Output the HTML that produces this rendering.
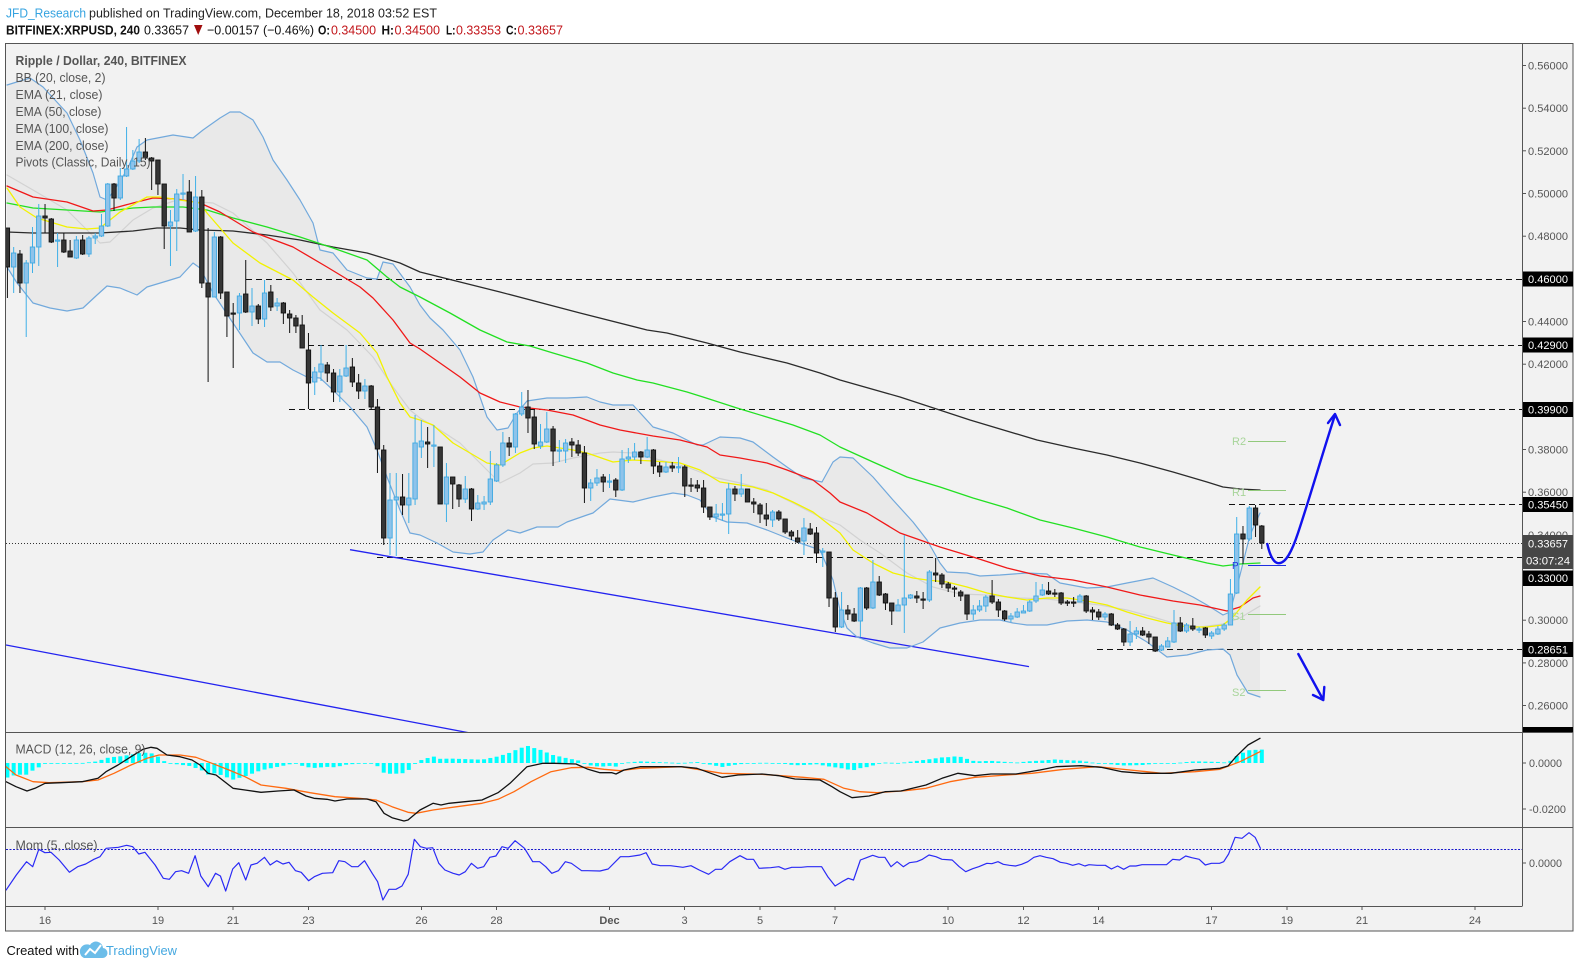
<!DOCTYPE html>
<html><head><meta charset="utf-8">
<style>
html,body{margin:0;padding:0;background:#fff;}
svg{display:block;}
text{font-family:"Liberation Sans",Arial,sans-serif;}
</style></head>
<body>
<svg id="svg" xmlns="http://www.w3.org/2000/svg" width="1580" height="968" viewBox="0 0 1580 968">
<defs>
<clipPath id="cMain"><rect x="6" y="43" width="1516" height="689"/></clipPath>
<clipPath id="cMacd"><rect x="6" y="732" width="1516" height="95"/></clipPath>
<clipPath id="cMom"><rect x="6" y="827" width="1516" height="79"/></clipPath>
</defs>
<rect x="0" y="0" width="1580" height="968" fill="#ffffff"/>
<!-- header -->
<text x="6" y="17.5" font-size="13" fill="#35a3e0" textLength="80" lengthAdjust="spacingAndGlyphs">JFD_Research</text>
<text x="89" y="17.5" font-size="13" fill="#222" textLength="348" lengthAdjust="spacingAndGlyphs">published on TradingView.com, December 18, 2018 03:52 EST</text>
<text x="6" y="34.5" font-size="13" font-weight="bold" fill="#111" textLength="134" lengthAdjust="spacingAndGlyphs">BITFINEX:XRPUSD, 240</text>
<text x="144" y="34.5" font-size="13" fill="#111" textLength="45" lengthAdjust="spacingAndGlyphs">0.33657</text>
<polygon points="194,25 202.5,25 198.2,35" fill="#a00d0d"/>
<text x="207" y="34.5" font-size="13" fill="#111" textLength="107" lengthAdjust="spacingAndGlyphs">−0.00157 (−0.46%)</text>
<text x="318" y="34.5" font-size="13" font-weight="bold" fill="#111" textLength="12" lengthAdjust="spacingAndGlyphs">O:</text>
<text x="331" y="34.5" font-size="13" fill="#c2161b" textLength="45" lengthAdjust="spacingAndGlyphs">0.34500</text>
<text x="381.5" y="34.5" font-size="13" font-weight="bold" fill="#111" textLength="12.5" lengthAdjust="spacingAndGlyphs">H:</text>
<text x="394.5" y="34.5" font-size="13" fill="#c2161b" textLength="45.5" lengthAdjust="spacingAndGlyphs">0.34500</text>
<text x="446" y="34.5" font-size="13" font-weight="bold" fill="#111" textLength="9.5" lengthAdjust="spacingAndGlyphs">L:</text>
<text x="456" y="34.5" font-size="13" fill="#c2161b" textLength="45" lengthAdjust="spacingAndGlyphs">0.33353</text>
<text x="506" y="34.5" font-size="13" font-weight="bold" fill="#111" textLength="11" lengthAdjust="spacingAndGlyphs">C:</text>
<text x="517.5" y="34.5" font-size="13" fill="#c2161b" textLength="45.5" lengthAdjust="spacingAndGlyphs">0.33657</text>

<!-- frame background -->
<rect x="5.5" y="43.5" width="1567.5" height="887.5" fill="#f2f2f2" stroke="none"/>

<g id="gMain" clip-path="url(#cMain)"></g>
<g id="gMacd" clip-path="url(#cMacd)"></g>
<g id="gMom" clip-path="url(#cMom)"></g>

<!-- frame lines -->
<g stroke="#555" stroke-width="1" fill="none">
<rect x="5.5" y="43.5" width="1567.5" height="887.5"/>
<line x1="1522.5" y1="43" x2="1522.5" y2="906"/>
<line x1="5" y1="732.5" x2="1573" y2="732.5"/>
<line x1="5" y1="827.5" x2="1573" y2="827.5"/>
<line x1="5" y1="906.5" x2="1522.5" y2="906.5"/>
</g>

<!-- legend -->
<g font-size="12.5" fill="#555">
<text x="15.5" y="65" font-weight="bold" textLength="171" lengthAdjust="spacingAndGlyphs">Ripple / Dollar, 240, BITFINEX</text>
<text x="15.5" y="82" textLength="90" lengthAdjust="spacingAndGlyphs">BB (20, close, 2)</text>
<text x="15.5" y="99" textLength="87" lengthAdjust="spacingAndGlyphs">EMA (21, close)</text>
<text x="15.5" y="116" textLength="86" lengthAdjust="spacingAndGlyphs">EMA (50, close)</text>
<text x="15.5" y="133" textLength="93" lengthAdjust="spacingAndGlyphs">EMA (100, close)</text>
<text x="15.5" y="150" textLength="93" lengthAdjust="spacingAndGlyphs">EMA (200, close)</text>
<text x="15.5" y="166.5" textLength="135" lengthAdjust="spacingAndGlyphs">Pivots (Classic, Daily, 15)</text>
<text x="15.5" y="753.5" textLength="130" lengthAdjust="spacingAndGlyphs">MACD (12, 26, close, 9)</text>
<text x="15.5" y="849.5" textLength="82" lengthAdjust="spacingAndGlyphs">Mom (5, close)</text>
</g>

<!-- price axis ticks -->
<g stroke="#555" stroke-width="1">
<line x1="1522" y1="65.5" x2="1526" y2="65.5"/><line x1="1522" y1="108.2" x2="1526" y2="108.2"/>
<line x1="1522" y1="150.8" x2="1526" y2="150.8"/><line x1="1522" y1="193.5" x2="1526" y2="193.5"/>
<line x1="1522" y1="236.2" x2="1526" y2="236.2"/><line x1="1522" y1="321.5" x2="1526" y2="321.5"/>
<line x1="1522" y1="364.2" x2="1526" y2="364.2"/><line x1="1522" y1="449.5" x2="1526" y2="449.5"/>
<line x1="1522" y1="492.2" x2="1526" y2="492.2"/><line x1="1522" y1="620.2" x2="1526" y2="620.2"/>
<line x1="1522" y1="662.9" x2="1526" y2="662.9"/><line x1="1522" y1="705.5" x2="1526" y2="705.5"/>
<line x1="1522" y1="763" x2="1526" y2="763"/><line x1="1522" y1="809" x2="1526" y2="809"/>
<line x1="1522" y1="863" x2="1526" y2="863"/>
</g>
<g font-size="11" fill="#555">
<text x="1528" y="69.5" textLength="40" lengthAdjust="spacingAndGlyphs">0.56000</text>
<text x="1528" y="112.2" textLength="40" lengthAdjust="spacingAndGlyphs">0.54000</text>
<text x="1528" y="154.8" textLength="40" lengthAdjust="spacingAndGlyphs">0.52000</text>
<text x="1528" y="197.5" textLength="40" lengthAdjust="spacingAndGlyphs">0.50000</text>
<text x="1528" y="240.2" textLength="40" lengthAdjust="spacingAndGlyphs">0.48000</text>
<text x="1528" y="325.5" textLength="40" lengthAdjust="spacingAndGlyphs">0.44000</text>
<text x="1528" y="368.2" textLength="40" lengthAdjust="spacingAndGlyphs">0.42000</text>
<text x="1528" y="453.5" textLength="40" lengthAdjust="spacingAndGlyphs">0.38000</text>
<text x="1528" y="496.2" textLength="40" lengthAdjust="spacingAndGlyphs">0.36000</text>
<text x="1528" y="538.9" textLength="40" lengthAdjust="spacingAndGlyphs">0.34000</text>
<text x="1528" y="624.2" textLength="40" lengthAdjust="spacingAndGlyphs">0.30000</text>
<text x="1528" y="666.9" textLength="40" lengthAdjust="spacingAndGlyphs">0.28000</text>
<text x="1528" y="709.5" textLength="40" lengthAdjust="spacingAndGlyphs">0.26000</text>
<text x="1529" y="767" textLength="33" lengthAdjust="spacingAndGlyphs">0.0000</text>
<text x="1529" y="813" textLength="37" lengthAdjust="spacingAndGlyphs">-0.0200</text>
<text x="1529" y="867" textLength="33" lengthAdjust="spacingAndGlyphs">0.0000</text>
</g>
<!-- price label boxes -->
<g fill="#000">
<rect x="1523" y="271.5" width="50" height="15"/>
<rect x="1523" y="337.5" width="50" height="15"/>
<rect x="1523" y="402" width="50" height="15"/>
<rect x="1523" y="497" width="50" height="15"/>
<rect x="1523" y="535" width="50" height="17" fill="#474747"/>
<rect x="1523" y="552" width="50" height="17" fill="#474747"/>
<rect x="1523" y="570.5" width="50" height="15.5"/>
<rect x="1523" y="642" width="50" height="15"/>
<rect x="1523" y="727" width="50" height="5"/>
</g>
<g font-size="11" fill="#fff">
<text x="1528" y="283" textLength="40" lengthAdjust="spacingAndGlyphs">0.46000</text>
<text x="1528" y="349" textLength="40" lengthAdjust="spacingAndGlyphs">0.42900</text>
<text x="1528" y="413.5" textLength="40" lengthAdjust="spacingAndGlyphs">0.39900</text>
<text x="1528" y="508.5" textLength="40" lengthAdjust="spacingAndGlyphs">0.35450</text>
<text x="1528" y="547.5" textLength="40" lengthAdjust="spacingAndGlyphs">0.33657</text>
<text x="1526" y="564.5" textLength="44" lengthAdjust="spacingAndGlyphs">03:07:24</text>
<text x="1528" y="582" textLength="40" lengthAdjust="spacingAndGlyphs">0.33000</text>
<text x="1528" y="653.5" textLength="40" lengthAdjust="spacingAndGlyphs">0.28651</text>
</g>

<!-- x axis -->
<g stroke="#555" stroke-width="1">
<line x1="45" y1="906" x2="45" y2="910"/><line x1="158" y1="906" x2="158" y2="910"/>
<line x1="233" y1="906" x2="233" y2="910"/><line x1="308.5" y1="906" x2="308.5" y2="910"/>
<line x1="421.5" y1="906" x2="421.5" y2="910"/><line x1="496.5" y1="906" x2="496.5" y2="910"/>
<line x1="609.5" y1="906" x2="609.5" y2="910"/><line x1="684.5" y1="906" x2="684.5" y2="910"/>
<line x1="760" y1="906" x2="760" y2="910"/><line x1="835" y1="906" x2="835" y2="910"/>
<line x1="948" y1="906" x2="948" y2="910"/><line x1="1023.5" y1="906" x2="1023.5" y2="910"/>
<line x1="1098.5" y1="906" x2="1098.5" y2="910"/><line x1="1211.5" y1="906" x2="1211.5" y2="910"/>
<line x1="1287" y1="906" x2="1287" y2="910"/><line x1="1362" y1="906" x2="1362" y2="910"/>
<line x1="1475" y1="906" x2="1475" y2="910"/>
</g>
<g font-size="11" fill="#555" text-anchor="middle">
<text x="45" y="924">16</text><text x="158" y="924">19</text><text x="233" y="924">21</text>
<text x="308.5" y="924">23</text><text x="421.5" y="924">26</text><text x="496.5" y="924">28</text>
<text x="609.5" y="924" font-weight="bold">Dec</text><text x="684.5" y="924">3</text><text x="760" y="924">5</text>
<text x="835" y="924">7</text><text x="948" y="924">10</text><text x="1023.5" y="924">12</text>
<text x="1098.5" y="924">14</text><text x="1211.5" y="924">17</text><text x="1287" y="924">19</text>
<text x="1362" y="924">21</text><text x="1475" y="924">24</text>
</g>

<!-- footer -->
<text x="6.5" y="955" font-size="13" fill="#111" textLength="72.5" lengthAdjust="spacingAndGlyphs">Created with</text>
<path d="M84,958 h18 a5,5 0 0 0 1,-10 a7,7 0 0 0 -13,-3 a5.5,5.5 0 0 0 -6,13z" fill="#6cbde9"/>
<polyline points="85,955 90,949 95,953 101,945" fill="none" stroke="#fff" stroke-width="2"/>
<text x="106" y="955" font-size="13" fill="#45a8e0" textLength="71" lengthAdjust="spacingAndGlyphs">TradingView</text>

<!-- pivot labels -->
<g font-size="11" fill="#a8d59a">
<text x="1232" y="445">R2</text>
<text x="1232" y="496">R1</text>
<text x="1232" y="620">S1</text>
<text x="1232" y="696">S2</text>
<text x="1232" y="569" fill="#2233dd" font-size="10">P</text>
</g>
</svg>

<script>
(function(){
var NS="http://www.w3.org/2000/svg";
var gMain=document.getElementById("gMain"),gMacd=document.getElementById("gMacd"),gMom=document.getElementById("gMom");
function mk(t,a,p){var e=document.createElementNS(NS,t);for(var k in a)e.setAttribute(k,a[k]);p.appendChild(e);return e;}
function X(i){return 7.4+i*6.272;}
function pts(a){var s=[];for(var i=0;i<a.length;i+=2)s.push(a[i]+","+a[i+1]);return s.join(" ");}
function pl(a,c,w,p,extra){var o={points:pts(a),fill:"none",stroke:c,"stroke-width":w,"stroke-linejoin":"round","stroke-linecap":"round"};if(extra)for(var k in extra)o[k]=extra[k];return mk("polyline",o,p);}
function interp(a,x){if(x<=a[0])return a[1];for(var i=0;i<a.length-2;i+=2){if(x>=a[i]&&x<=a[i+2]){var t=(x-a[i])/(a[i+2]-a[i]);return a[i+1]+t*(a[i+3]-a[i+1]);}}return a[a.length-1];}

var yellow=[7,188,20,207,37,218,67,227,87,229,100,228,120,212,147,197,160,197,180,200,200,203,207,213,233,243,260,263,293,280,313,297,333,313,360,333,377,353,387,377,400,403,410,417,420,420,433,425,453,443,470,453,487,463,500,465,520,453,533,448,547,446,560,448,573,450,587,453,613,462,633,460,653,461,680,463,700,470,720,482,740,485,753,487,773,493,793,502,813,512,827,523,840,533,853,550,873,563,893,573,913,578,927,580,947,582,967,587,987,593,1007,597,1027,600,1047,598,1067,598,1087,601,1107,605,1127,612,1147,618,1167,623,1187,627,1207,627,1223,625,1233,617,1247,600,1260,587];
var red=[7,186,33,197,67,202,93,211,107,210,133,203,153,198,177,199,200,203,220,212,253,232,293,247,327,267,360,287,373,298,393,320,410,343,420,349,440,363,460,377,480,393,500,402,520,407,547,410,573,415,600,425,620,430,653,436,680,440,707,447,720,455,740,458,767,463,787,470,813,480,830,493,840,502,867,513,900,533,940,547,973,557,1007,568,1040,576,1073,580,1107,587,1140,595,1173,601,1200,605,1227,611,1240,607,1253,598,1260,596];
var green=[7,203,33,208,67,210,100,212,133,208,153,207,183,207,207,210,233,218,267,227,300,237,333,248,367,260,387,277,400,287,420,297,450,313,480,330,507,342,530,346,553,353,587,363,613,373,637,380,653,383,687,392,703,397,737,408,770,418,793,425,820,435,840,447,873,462,907,477,940,487,973,498,1007,508,1040,520,1073,528,1107,537,1140,547,1173,555,1207,563,1223,566,1240,564,1260,563];
var black=[7,232,33,233,67,233,100,233,133,231,157,228,180,228,200,230,233,231,267,235,300,240,333,247,367,253,400,263,420,272,500,292,580,313,647,330,667,333,707,343,740,352,787,363,820,373,840,380,900,397,970,420,1037,440,1073,448,1107,455,1140,463,1173,472,1207,482,1223,487,1240,489,1260,490];
var gray=[7,175,33,190,67,210,100,243,110,242,133,220,153,208,177,200,200,202,213,203,233,213,267,243,293,273,320,310,347,330,373,357,393,387,410,410,420,418,440,430,460,443,480,463,500,483,520,473,533,464,553,463,573,458,600,453,613,452,633,453,660,460,687,467,713,477,740,483,767,490,793,503,820,517,840,525,860,540,880,553,907,573,933,587,960,594,987,595,1020,598,1047,599,1073,602,1100,605,1127,610,1153,617,1173,623,1200,627,1223,624,1240,618,1260,606];
var bbU=[7,85,30,78,43,87,67,113,80,140,93,173,100,197,107,200,113,192,127,170,137,147,147,140,173,135,193,138,203,130,220,118,230,112,240,112,253,120,263,137,273,160,287,180,300,200,313,223,320,250,333,253,347,270,367,278,377,279,383,262,393,264,410,287,420,305,430,318,443,330,460,350,473,377,487,417,497,430,508,428,517,413,527,401,547,398,567,398,587,397,600,402,613,405,633,405,653,427,673,433,697,445,703,445,720,437,740,438,753,442,773,457,787,467,803,478,822,482,833,462,840,457,853,458,873,477,893,500,913,522,927,540,940,563,947,572,967,573,980,576,1000,575,1027,573,1047,574,1060,583,1087,588,1107,587,1127,583,1153,578,1173,587,1193,597,1207,605,1223,615,1230,612,1240,575,1250,535,1260,513];
var bbL=[7,267,17,283,33,303,50,308,67,311,83,308,97,295,107,286,120,288,137,295,147,287,167,281,180,277,193,263,200,268,213,293,233,323,253,353,267,362,280,362,293,370,307,377,320,378,333,390,350,407,367,427,377,450,387,477,400,510,410,533,420,535,437,543,453,552,470,554,483,552,493,540,508,530,520,533,537,527,558,527,567,522,587,515,593,513,610,499,633,502,653,497,673,493,687,495,700,500,713,517,727,522,747,523,767,530,787,538,800,543,820,550,833,580,840,610,847,628,857,637,873,643,890,648,907,648,923,642,940,628,960,623,980,620,1000,620,1013,623,1027,625,1047,625,1067,621,1087,620,1107,622,1127,630,1147,642,1167,657,1187,655,1207,650,1223,649,1230,655,1237,675,1248,693,1260,697];

var C=[[228,267,228,298],[267,253,247,293],[254,283,250,293],[283,263,260,337],[263,247,227,273],[247,216,204,266],[216,218,204,233],[219,242,218,243],[241,240,233,267],[240,252,233,253],[251,257,240,257],[258,240,236,259],[240,254,235,255],[254,238,236,257],[238,236,233,244],[236,226,214,237],[226,184,183,227],[184,198,183,211],[198,176,168,200],[176,169,127,177],[169,161,150,170],[161,152,139,163],[152,158,138,160],[158,161,157,190],[160,184,160,195],[184,226,184,249],[226,222,210,266],[221,194,189,251],[194,193,174,200],[192,232,180,232],[231,197,176,232],[197,283,190,288],[283,297,228,382],[297,237,232,297],[237,293,236,299],[292,316,292,337],[313,314,303,368],[313,296,293,330],[294,312,260,313],[312,306,288,326],[306,319,304,324],[319,293,280,327],[292,307,285,311],[306,303,298,311],[303,313,302,324],[314,318,310,333],[318,326,315,333],[325,348,315,348],[350,383,333,409],[382,372,367,395],[372,364,345,381],[365,373,362,382],[373,392,369,402],[392,376,369,402],[376,368,345,377],[367,382,358,387],[383,391,374,399],[391,386,379,399],[386,407,385,409],[407,449,399,473],[450,538,445,545],[538,500,473,555],[500,497,473,556],[497,505,474,515],[505,498,473,523],[499,443,415,505],[447,441,420,458],
[442,444,427,468],[446,445,425,467],[447,504,447,504],[504,477,463,522],[477,484,477,509],[485,499,484,507],[499,489,476,503],[489,509,488,521],[509,503,495,510],[504,502,496,510],[502,479,451,505],[481,465,463,482],[465,443,432,467],[443,447,437,456],[447,414,413,453],[414,407,392,416],[407,418,390,433],[417,444,409,449],[446,442,424,449],[442,429,412,443],[429,451,426,466],[451,450,440,462],[451,443,439,463],[442,445,438,457],[445,453,440,456],[453,488,446,503],[488,483,479,501],[483,478,469,486],[477,482,474,492],[482,481,474,488],[480,490,478,497],[490,459,450,491],[459,457,448,463],[457,452,443,460],[452,457,451,464],[457,450,437,458],[450,466,449,474],[466,472,462,477],[472,467,462,473],[466,468,462,472],[467.5,466.7,457,473],[467,486,465,497],[485,486,478,492],[485,488,480,492],[488,507,480,513],[507,517,507,520],[517,514,504,522],[515,514,503,521],[514,489,483,534],[489,494,486,501],[494,489,474,497],[489,502,489,502],[502,504,498,513],[505,514,503,523],[515,519,503,526],[520,512,510,527],[512,519,510,521],[519,532,519,534],[532,536,530,540],[538,542,530,543],[541,528,518,555],[529,534,523,535],[533,553,527,563],[552,551,548,567],[552,598,552,607],[598,627,592,632],
[627,610,592,628],[610,614,605,620],[614,621,608,622],[621,588,587,637],[588,608,587,610],[608,582,560,609],[582,595,576,596],[594,603,593,610],[603,611,603,625],[611,605,599,611],[605,598,535,633],[598,595,594,599],[596,598,591,603],[599,600,592,609],[600,572,570,602],[573,575,558,582],[575,584,573,588],[584,588,582,592],[588,589,586,597],[592,596,590,601],[595,614,595,620],[614,610,605,620],[610,606,600,612],[606,597,595,612],[596,602,580,604],[602,610,599,617],[611,619,610,621],[619,616,613,622],[617,612,608,618],[613,611,605,613],[611,602,600,612],[601,596,582,603],[595,590,584,596],[591,594,582,595],[593,594,589,597],[593,603,592,605],[602,603,600,606],[602,603,597,607],[602,596,594,602],[596,611,595,613],[610,612,607,620],[612,617,609,620],[617,614,612,620],[614,625,613,626],[625,629,623,630],[629,642,628,646],[642,634,621,646],[634,631,627,639],[631,635,627,636],[634,637,631,644],[637,651,637,652],[650,646,644,651],[647,641,637,647],[642,623,610,643],[623,631,617,632],[631,625,623,633],[626,629,618,631],[630,629,627,633],[628,635,627,638],[636,633,631,639],[634,629,626,635],[629,625,623,631],[625,594,579,625],[593,534,517,594],[534,539,526,564],[539,508,506,541],[508,525,505,537],[526,543,525,549]];

/* BB fill */
var fillPts=bbU.slice();
for(var i=bbL.length-2;i>=0;i-=2){fillPts.push(bbL[i],bbL[i+1]);}
mk("polygon",{points:pts(fillPts),fill:"#e9e9e9",stroke:"none"},gMain);

/* horizontal dashed levels */
function hl(x1,y,dash,col){mk("line",{x1:x1,y1:y+0.5,x2:1522,y2:y+0.5,stroke:col||"#111","stroke-width":1,"stroke-dasharray":dash},gMain);}
hl(246,279,"6 4");hl(308,345,"6 4");hl(289,409,"6 4");hl(1229,504,"6 4");hl(377,557,"6 4");hl(1097,649,"6 4");
hl(6,543,"1 2","#333");

/* trendlines */
mk("line",{x1:350,y1:549.7,x2:1029,y2:666.6,stroke:"#2323f0","stroke-width":1.3},gMain);
mk("line",{x1:6,y1:645,x2:470,y2:733,stroke:"#2323f0","stroke-width":1.3},gMain);

/* indicator lines */
pl(gray,"#d2d2d2",1.2,gMain);
pl(bbU,"#72a9dc",1.2,gMain);
pl(bbL,"#72a9dc",1.2,gMain);
pl(black,"#2b2b2b",1.3,gMain);
pl(green,"#22e022",1.3,gMain);
pl(red,"#f01818",1.3,gMain);
pl(yellow,"#f2f200",1.3,gMain);

/* candles */
for(var i=0;i<C.length;i++){
 var c=C[i],x=X(i),o=c[0],cl=c[1],h=c[2],l=c[3];
 var up=cl<o;
 var wc=up?"#3fb0e8":"#111";
 mk("line",{x1:x,y1:h,x2:x,y2:l,stroke:wc,"stroke-width":1},gMain);
 var top=Math.min(o,cl),ht=Math.max(Math.abs(o-cl),1.2);
 mk("rect",{x:x-2.2,y:top,width:4.4,height:ht,fill:up?"#8ec3ea":"#363636",stroke:up?"#3fa9e2":"#111","stroke-width":0.9},gMain);
}

/* pivots */
function pv(y,col){mk("line",{x1:1248,y1:y+0.5,x2:1286,y2:y+0.5,stroke:col,"stroke-width":1},gMain);}
pv(441,"#92c97c");pv(490,"#92c97c");pv(565,"#1f2fe0");pv(614,"#92c97c");pv(690,"#92c97c");

/* arrows */
var arr={fill:"none",stroke:"#1111ee","stroke-width":2.4,"stroke-linecap":"round","stroke-linejoin":"round"};
mk("path",Object.assign({d:"M1267.3,544 C1270,556 1274,563.5 1279,563.2 C1286,563 1292,551 1298,533 C1310,497 1322,455 1335,415"},arr),gMain);
mk("polyline",Object.assign({points:"1328,423 1335,414 1340,425"},arr),gMain);
mk("line",Object.assign({x1:1298.3,y1:654,x2:1323.3,y2:700},arr),gMain);
mk("polyline",Object.assign({points:"1313,695 1323.3,700 1324.3,687"},arr),gMain);

/* MACD */
var mB=[6,781.7,16,786.7,27,791,35,788.3,45,783.3,61,782.7,82,781.7,98,778.3,106,771.7,118,765,131,756.7,143,749.3,151,747.3,157,748.3,167,755,180,756.7,192,760,200,765,208,773.3,216,775,233,788.3,245,790,261,792.3,278,791,294,790,306,796,314,798.3,327,799.3,335,801,347,799,367,799,376,801.7,384,813.3,392,817.7,404,821,408,820,420,810,433,803.3,441,805,449,803.3,465,801.7,482,800,498,792.7,510,783.3,527,766.7,543,763.3,555,763.3,576,764,588,769.3,600,772.7,612,772.7,616,774,624,770,640,766.7,681,766.7,697,768.3,722,777.3,738,775,762,774,779,775.7,795,779,820,780,832,786.7,840,791.7,852,797.7,869,796,885,791.7,901,791,926,785,942,778.3,958,773.3,975,775.7,991,774,1016,774,1040,770,1056,766.7,1081,765.7,1101,767.3,1122,771.7,1142,773.3,1171,773.3,1195,770,1220,768.3,1228,766,1236,756.7,1248,745,1260,738.3];
var mO=[6,766.7,16,775,33,781.7,49,782.7,82,781.7,98,780,114,773.3,131,765,147,758.3,159,755,180,755,196,757.3,212,763.3,229,770,245,776.7,261,785,286,788.3,310,792.7,335,796.7,359,798.3,376,800,392,806.7,408,812.3,416,813.3,433,810,457,806.7,482,803.3,498,799.3,514,791.7,531,781.7,551,771.7,571,767.7,588,767.3,604,769.3,620,770.7,640,768.3,681,766.7,722,773.3,762,774.3,803,777.3,824,779.3,844,788.3,860,791.7,877,792.7,905,790.7,926,788.3,950,781.7,975,777.3,1007,775,1032,773.3,1064,769.3,1097,766.7,1130,770,1162,773.3,1195,771.7,1220,769.3,1240,761.7,1260,751.7];
for(var i=0;i<=200;i++){
 var x=X(i),hv=interp(mO,x)-interp(mB,x);
 var y0=763,yt=Math.min(y0,y0-hv),hh=Math.max(Math.abs(hv),0.8);
 mk("rect",{x:x-2,y:yt,width:4,height:hh,fill:"#00ffff"},gMacd);
}
pl(mO,"#ff6a10",1.3,gMacd);
pl(mB,"#111",1.3,gMacd);

/* Momentum */
var m5=[15,510,40,465,65,425,80,440,95,388,110,398,125,397,145,420,170,457,190,440,210,432,230,418,245,410,260,385,290,382,310,376,325,380,340,402,355,397,380,435,400,475,415,478,430,455,445,452,462,460,478,407,492,468,510,500,528,460,540,468,553,513,570,447,585,428,602,480,615,435,630,430,648,412,662,435,678,422,693,432,708,427,724,452,738,457,756,482,770,470,790,460,815,458,830,422,845,425,862,440,877,440,893,422,912,460,925,485,938,540,953,508,970,508,985,498,1000,463,1015,358,1030,380,1045,385,1060,383,1075,430,1090,450,1110,460,1125,465,1140,455,1155,430,1170,445,1185,440,1200,412,1215,408,1230,380,1245,385,1262,362,1285,385,1305,425,1322,425,1337,440,1352,460,1368,452,1385,425,1400,430,1425,452,1440,452,1470,453,1490,447,1520,410,1540,410,1568,405];
var m6=[0,400,15,398,30,432,50,437,75,437,105,442,125,437,145,450,168,463,185,448,200,448,220,425,245,407,262,418,278,418,292,445,320,443,340,440,355,448,372,442,395,442,410,440,425,440,445,440,460,470,478,498,495,485,510,475,523,480,540,420,555,413,570,406,585,412,600,412,615,440,630,425,645,440,660,428,678,425,692,418,708,405,725,410,740,418,765,420,782,440,798,455,815,446,830,440,850,430,862,431,877,425,890,433,905,436,920,438,935,433,950,425,965,412,980,407,995,412,1012,416,1030,427,1045,430,1060,436,1075,431,1090,438,1100,434,1120,436,1140,436,1155,447,1170,438,1185,448,1200,438,1215,438,1230,434,1250,434,1270,434,1290,434,1305,418,1322,420,1337,408,1352,413,1370,418,1385,435,1400,430,1420,430,1430,425,1442,402,1458,352,1475,355,1492,338,1507,352,1520,385];
var mom=[];
for(var i=0;i<m5.length;i+=2){mom.push((m5[i]/2.45).toFixed(1),(720+m5[i+1]/3).toFixed(1));}
for(var i=2;i<m6.length;i+=2){mom.push((640+m6[i]/2.45).toFixed(1),(720+m6[i+1]/3).toFixed(1));}
mk("line",{x1:6,y1:849.5,x2:1522,y2:849.5,stroke:"#1a1acc","stroke-width":1,"stroke-dasharray":"2 1.5"},gMom);
pl(mom,"#2a2af5",1.2,gMom);
})();
</script>
</body></html>
